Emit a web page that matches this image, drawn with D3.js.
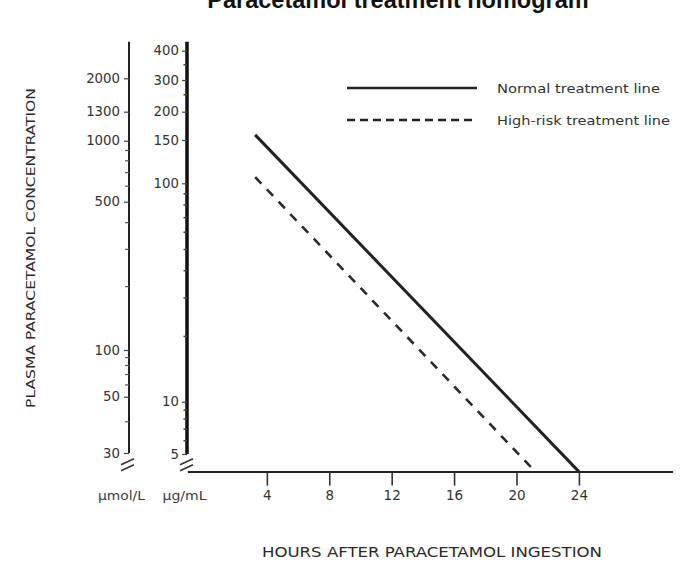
<!DOCTYPE html>
<html>
<head>
<meta charset="utf-8">
<script src="https://cdn.jsdelivr.net/npm/d3@7"></script>
<style>
  html, body { margin: 0; padding: 0; background: #fff; }
  svg { display: block; }
  text { font-family: "DejaVu Sans", sans-serif; fill: #3a3a3a; }
</style>
</head>
<body>
<svg id="chart" width="689" height="564"></svg>
<script>
// ---- data ----
const title = "Paracetamol treatment nomogram";
const xTitle = "HOURS AFTER PARACETAMOL INGESTION";
const yTitle = "PLASMA PARACETAMOL CONCENTRATION";
const unitMol = "µmol/L";
const unitMg = "µg/mL";

const hourTicks = [4, 8, 12, 16, 20, 24];
const hourDomain = [-1.1, 30];

const mgTicks = [5, 10, 100, 150, 200, 300, 400];
const mgMinorTicks = [6, 7, 8, 9, 20, 30, 40, 50, 60, 70, 80, 90, 250, 350];
const mgFloor = 4;      // value at the time axis
const mgTop = 440;

const molTicks = [30, 50, 100, 500, 1000, 1300, 2000];
const molMinorTicks = [40, 60, 70, 80, 90, 200, 300, 400, 600, 700, 800, 900];
const molTop = 3200;

const normalHours = [3.25, 24];
const normalValues = [158, 4];
const highRiskHours = [3.25, 21.2];
const highRiskValues = [106, 4];

const legendLabels = ["Normal treatment line", "High-risk treatment line"];

// ---- scales ----
const svg = d3.select("#chart");

const x = d3.scaleLinear().domain(hourDomain).range([187.3, 672.5]);

// piecewise log scales following the hand-drawn axes
const yMg = d3.scaleLog()
  .domain([mgFloor, 5, 10, 100, 150, 200, 300, 400, mgTop])
  .range([471.6, 454, 401.7, 183.3, 140, 111.7, 80, 50.7, 41.7]);

const yMol = d3.scaleLog()
  .domain([30, 50, 100, 500, 1000, 1300, 2000, molTop])
  .range([453, 396.7, 350, 201.7, 140.7, 111.7, 78.3, 41.7]);

const ink = "#222";
const labelFont = "13.3px";

// ---- title (partially cut at the top, as in the source) ----
svg.append("text")
  .attr("x", 398).attr("y", 7.5)
  .attr("text-anchor", "middle")
  .style("font-family", "'Liberation Sans', Arial, sans-serif")
  .style("font-weight", "bold")
  .style("font-size", "23.5px")
  .style("fill", "#111")
  .text(title);

// ---- left axis (µmol/L) ----
const xMolAxis = 129;
const gMol = svg.append("g").attr("transform", `translate(${xMolAxis},0)`);
gMol.append("line")
  .attr("y1", yMol(30)).attr("y2", yMol(molTop))
  .attr("stroke", ink).attr("stroke-width", 2);
gMol.call(g => {
  const ax = d3.axisLeft(yMol).tickValues(molTicks).tickFormat(d3.format("d"))
    .tickSize(5).tickPadding(4);
  const a = g.append("g").call(ax);
  a.select(".domain").remove();
  a.selectAll("line").attr("stroke", "#444").attr("stroke-width", 1.2);
  a.selectAll("text").style("font-size", labelFont).style("fill", "#333")
    .style("font-family", "'DejaVu Sans', sans-serif");
  const m = g.append("g").call(d3.axisLeft(yMol).tickValues(molMinorTicks).tickFormat("").tickSize(4));
  m.select(".domain").remove();
  m.selectAll("line").attr("stroke", "#555").attr("stroke-width", 1.2);
});

// ---- right axis (µg/mL) ----
const xMgAxis = 187;
const gMg = svg.append("g").attr("transform", `translate(${xMgAxis},0)`);
gMg.append("line")
  .attr("y1", yMg(5)).attr("y2", yMg(mgTop))
  .attr("stroke", "#111").attr("stroke-width", 3.5);
gMg.call(g => {
  const ax = d3.axisLeft(yMg).tickValues(mgTicks).tickFormat(d3.format("d"))
    .tickSize(5).tickPadding(3);
  const a = g.append("g").call(ax);
  a.select(".domain").remove();
  a.selectAll("line").attr("stroke", "#444").attr("stroke-width", 1.2);
  a.selectAll("text").style("font-size", labelFont).style("fill", "#333")
    .style("font-family", "'DejaVu Sans', sans-serif");
  const m = g.append("g").call(d3.axisLeft(yMg).tickValues(mgMinorTicks).tickFormat("").tickSize(3.5));
  m.select(".domain").remove();
  m.selectAll("line").attr("stroke", "#444").attr("stroke-width", 1.5);
});

// ---- axis break marks ----
function breakMarks(cx) {
  const yb = (yMg(5) + yMg(mgFloor)) / 2 + 2;
  [-3, 3].forEach(off => {
    svg.append("line")
      .attr("x1", cx - 7).attr("y1", yb + off + 3)
      .attr("x2", cx + 6).attr("y2", yb + off - 3)
      .attr("stroke", "#333").attr("stroke-width", 1.6);
  });
}
breakMarks(xMolAxis - 1);
breakMarks(xMgAxis);

// ---- time axis ----
const gx = svg.append("g").attr("transform", `translate(0,${yMg(mgFloor)})`);
const xa = d3.axisBottom(x).tickValues(hourTicks).tickFormat(d3.format("d"))
  .tickSize(14).tickPadding(5).tickSizeOuter(0);
gx.call(xa);
gx.select(".domain").attr("stroke", ink).attr("stroke-width", 2);
gx.selectAll(".tick line").attr("stroke", "#333").attr("stroke-width", 1.6);
gx.selectAll(".tick text").style("font-size", "13.5px").style("fill", "#333")
  .style("font-family", "'DejaVu Sans', sans-serif");

// unit labels
svg.append("text").attr("x", 121.5).attr("y", 500).attr("text-anchor", "middle")
  .style("font-size", "11.5px").attr("textLength", 47).attr("lengthAdjust", "spacingAndGlyphs")
  .text(unitMol);
svg.append("text").attr("x", 184.5).attr("y", 500).attr("text-anchor", "middle")
  .style("font-size", "11.5px").attr("textLength", 44).attr("lengthAdjust", "spacingAndGlyphs")
  .text(unitMg);

// ---- axis titles ----
svg.append("text")
  .attr("transform", `translate(35,248) rotate(-90)`)
  .attr("text-anchor", "middle")
  .style("font-family", "'DejaVu Sans Condensed', 'DejaVu Sans', sans-serif")
  .style("font-size", "11.5px").style("fill", "#2a2a2a")
  .attr("textLength", 320).attr("lengthAdjust", "spacingAndGlyphs")
  .text(yTitle);

svg.append("text")
  .attr("x", 432).attr("y", 557)
  .attr("text-anchor", "middle")
  .style("font-family", "'DejaVu Sans Condensed', 'DejaVu Sans', sans-serif")
  .style("font-size", "14.5px").style("fill", "#2a2a2a")
  .attr("textLength", 340).attr("lengthAdjust", "spacingAndGlyphs")
  .text(xTitle);

// ---- treatment lines ----
const line = d3.line().x(d => x(d.h)).y(d => yMg(d.v));
const normal = normalHours.map((h, i) => ({ h, v: normalValues[i] }));
const highRisk = highRiskHours.map((h, i) => ({ h, v: highRiskValues[i] }));

svg.append("path").datum(normal).attr("d", line)
  .attr("fill", "none").attr("stroke", ink).attr("stroke-width", 3);
svg.append("path").datum(highRisk).attr("d", line)
  .attr("fill", "none").attr("stroke", "#2a2a2a").attr("stroke-width", 2.6)
  .attr("stroke-dasharray", "9,8");

// ---- legend ----
const legend = svg.append("g");
const legendRows = [
  { label: legendLabels[0], dash: null, y: 88, len: 163 },
  { label: legendLabels[1], dash: "8,5", y: 120, len: 173 }
];
legendRows.forEach(r => {
  legend.append("line")
    .attr("x1", 347).attr("x2", 477).attr("y1", r.y).attr("y2", r.y)
    .attr("stroke", ink).attr("stroke-width", r.dash ? 2.4 : 2.6)
    .attr("stroke-dasharray", r.dash);
  legend.append("text")
    .attr("x", 497).attr("y", r.y + 4.5)
    .style("font-size", "12.5px").style("fill", "#333")
    .attr("textLength", r.len).attr("lengthAdjust", "spacingAndGlyphs")
    .text(r.label);
});
</script>
</body>
</html>
